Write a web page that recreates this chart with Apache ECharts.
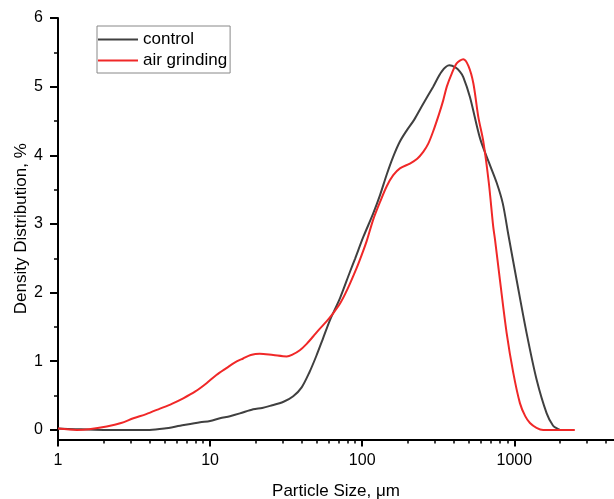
<!DOCTYPE html>
<html>
<head>
<meta charset="utf-8">
<script src="https://cdn.jsdelivr.net/npm/echarts@6/dist/echarts.min.js"></script>
<style>
html,body{margin:0;padding:0;background:#fff;}
#chart{width:614px;height:499px;}
</style>
</head>
<body>
<div id="chart"></div>
<script>
// ---- data ----
const seriesNames = ['control', 'air grinding'];
const controlSize = [1, 1.3, 2, 3, 4, 5, 6.35, 8.6, 10, 11.6, 13.5, 15.7, 19.2, 22, 24.8, 30.4, 35.2, 40, 45, 50, 55, 61.4, 71.5, 83, 90, 101.7, 118, 131, 145, 160, 177, 196, 220, 246, 293, 333, 374, 410, 439, 462, 511, 595, 680, 766, 840, 913, 1037, 1205, 1403, 1633, 1800, 1946, 2000];
const controlVal  = [0.02, 0.01, 0, 0, 0, 0.02, 0.06, 0.11, 0.13, 0.17, 0.2, 0.24, 0.30, 0.32, 0.35, 0.41, 0.49, 0.62, 0.84, 1.08, 1.32, 1.6, 1.92, 2.3, 2.5, 2.81, 3.15, 3.42, 3.72, 3.98, 4.2, 4.36, 4.52, 4.71, 5.0, 5.22, 5.31, 5.28, 5.22, 5.14, 4.85, 4.25, 3.9, 3.6, 3.3, 2.85, 2.18, 1.41, 0.73, 0.24, 0.06, 0.01, 0];
const airSize = [1, 1.33, 1.6, 2.09, 2.6, 3.13, 3.8, 4.68, 5.6, 6.66, 8, 9.48, 11, 12.8, 14.5, 16.5, 18.5, 21.2, 26, 31.9, 35, 38.9, 43, 47.6, 52, 58.3, 64, 71.5, 80, 92, 99.3, 107, 118, 131, 145, 160, 177, 206, 230, 252, 272, 293, 320, 341, 360, 388, 418, 462, 500, 538, 580, 626, 680, 727, 747, 805, 891, 985, 1089, 1180, 1268, 1400, 1549, 2500];
const airVal  = [0.02, 0, 0.01, 0.05, 0.1, 0.17, 0.23, 0.31, 0.38, 0.46, 0.56, 0.68, 0.8, 0.90, 0.98, 1.04, 1.09, 1.11, 1.09, 1.07, 1.1, 1.16, 1.25, 1.36, 1.46, 1.58, 1.69, 1.84, 2.05, 2.36, 2.55, 2.75, 3.06, 3.32, 3.55, 3.71, 3.81, 3.88, 3.95, 4.05, 4.17, 4.35, 4.6, 4.8, 5.0, 5.19, 5.34, 5.40, 5.3, 5.05, 4.56, 4.2, 3.6, 2.96, 2.77, 2.18, 1.41, 0.83, 0.39, 0.2, 0.10, 0.03, 0, 0];
const xMajorTicks = [1, 10, 100, 1000];
const xMinorTicks = [2,3,4,5,6,7,8,9, 20,30,40,50,60,70,80,90, 200,300,400,500,600,700,800,900, 2000,3000,4000];
const yMajorTicks = [0, 1, 2, 3, 4, 5, 6];
const yMinorTicks = [0.5, 1.5, 2.5, 3.5, 4.5, 5.5];
const xTitle = 'Particle Size, μm';
const yTitle = 'Density Distribution, %';

const FONT = '"Liberation Sans", Arial, sans-serif';
const X_MIN = 1, X_MAX = 4525, Y_MIN = -0.14, Y_MAX = 6;

function pairs(xs, ys) { return xs.map((x, i) => [x, ys[i]]); }

const chart = echarts.init(document.getElementById('chart'), null, {renderer: 'canvas'});
const axisLineStyle = {color: '#000', width: 2};
chart.setOption({
  animation: false,
  backgroundColor: '#fff',
  grid: {left: 58, right: 0, top: 18, bottom: 59.5, containLabel: false, outerBoundsMode: 'none'},
  legend: {
    orient: 'vertical', left: 97, top: 26,
    data: seriesNames.map(n => ({name: n, icon: 'rect'})),
    itemWidth: 40, itemHeight: 2, itemGap: 4,
    padding: [5, 3, 4, 1],
    borderColor: '#888', borderWidth: 1,
    textStyle: {fontFamily: FONT, fontSize: 17, color: '#000'}
  },
  xAxis: [{
    type: 'log', logBase: 10, min: X_MIN, max: X_MAX, position: 'bottom',
    name: xTitle, nameLocation: 'middle', nameGap: 43, nameMoveOverlap: false,
    nameTextStyle: {fontFamily: FONT, fontSize: 17, color: '#000'},
    axisLine: {show: true, onZero: false, lineStyle: axisLineStyle},
    axisTick: {show: true, inside: false, length: 7, lineStyle: {color: '#000', width: 2}, customValues: xMajorTicks},
    axisLabel: {fontFamily: FONT, fontSize: 16, color: '#000', margin: 13, customValues: xMajorTicks, formatter: v => String(v)},
    splitLine: {show: false}, minorTick: {show: false}
  }, {
    type: 'log', logBase: 10, min: X_MIN, max: X_MAX, position: 'bottom',
    axisLine: {show: false, onZero: false},
    axisTick: {show: true, inside: false, length: 4, lineStyle: {color: '#000', width: 1.5}, customValues: xMinorTicks},
    axisLabel: {show: false},
    splitLine: {show: false}
  }],
  yAxis: [{
    type: 'value', min: Y_MIN, max: Y_MAX, position: 'left',
    name: yTitle, nameLocation: 'middle', nameGap: 28, nameMoveOverlap: false,
    nameTextStyle: {fontFamily: FONT, fontSize: 17, color: '#000'},
    axisLine: {show: true, onZero: false, lineStyle: axisLineStyle},
    axisTick: {show: true, inside: false, length: 8, lineStyle: {color: '#000', width: 2}, customValues: yMajorTicks},
    axisLabel: {fontFamily: FONT, fontSize: 16, color: '#000', margin: 15, customValues: yMajorTicks},
    splitLine: {show: false}
  }, {
    type: 'value', min: Y_MIN, max: Y_MAX, position: 'left', offset: 0,
    axisLine: {show: false, onZero: false},
    axisTick: {show: true, inside: false, length: 4, lineStyle: {color: '#000', width: 1.5}, customValues: yMinorTicks},
    axisLabel: {show: false},
    splitLine: {show: false}
  }],
  series: [{
    name: seriesNames[0], type: 'line', xAxisIndex: 0, yAxisIndex: 0,
    data: pairs(controlSize, controlVal), symbol: 'none', smooth: 0.3,
    lineStyle: {color: '#404040', width: 2}, itemStyle: {color: '#404040'}, z: 3
  }, {
    name: seriesNames[1], type: 'line', xAxisIndex: 0, yAxisIndex: 0,
    data: pairs(airSize, airVal), symbol: 'none', smooth: 0.3,
    lineStyle: {color: '#f02828', width: 2}, itemStyle: {color: '#f02828'}, z: 4
  }]
});
</script>
</body>
</html>
